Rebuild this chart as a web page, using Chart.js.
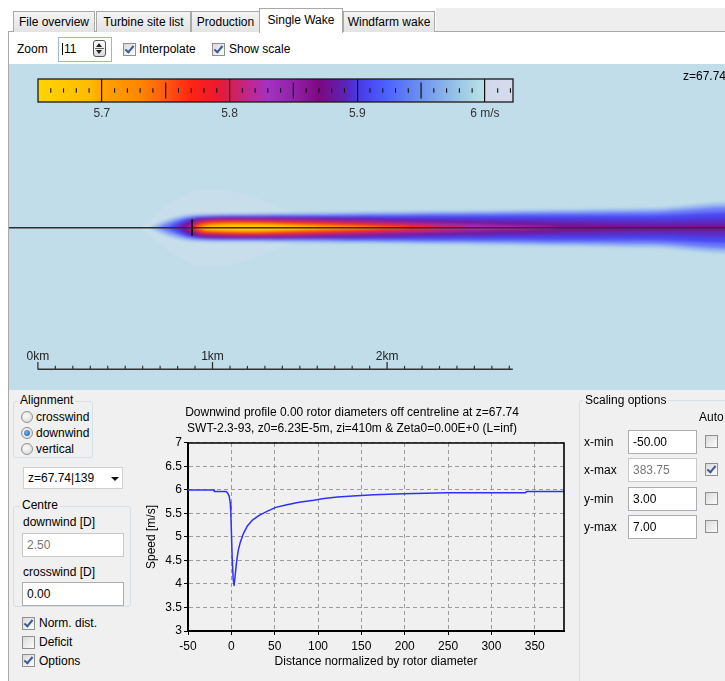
<!DOCTYPE html>
<html><head><meta charset="utf-8">
<script src="https://cdn.jsdelivr.net/npm/chart.js@4.4.1/dist/chart.umd.min.js"></script>
<style>
*{box-sizing:border-box}
body{margin:0;width:725px;height:681px;overflow:hidden;position:relative;background:#fff;font-family:"Liberation Sans",Arial,sans-serif;font-size:12px;color:#000}
.t{position:absolute;white-space:nowrap;line-height:14px}
.tab{position:absolute;top:11px;height:21px;border:1px solid #a9a9a9;border-bottom:none;background:linear-gradient(#f4f4f4,#e3e3e3);text-align:center;line-height:20px;white-space:nowrap}
.tab.act{top:8px;height:25px;background:#fff;line-height:22px;z-index:3}
.cb{position:absolute;width:13px;height:13px;border:1px solid #8f8f8f;background:linear-gradient(135deg,#dadada,#fbfbfb)}
.cb.on::after{content:"";position:absolute;left:3px;top:0px;width:3px;height:7px;border:solid #3e5b95;border-width:0 2px 2px 0;transform:rotate(40deg)}
.rb{position:absolute;width:12px;height:12px;border-radius:50%;border:1px solid #8f8f8f;background:radial-gradient(circle at 40% 40%,#fafafa,#d6d6d6)}
.rb.on::after{content:"";position:absolute;left:2px;top:2px;width:6px;height:6px;border-radius:50%;background:radial-gradient(circle at 40% 35%,#6fb3ec,#1b5c9e)}
.tb{position:absolute;height:24px;border:1px solid #abadb3;background:#fff;padding-left:4px;line-height:22px;white-space:nowrap}
.gb{position:absolute;border:1px solid #d5dfe5;border-radius:3px}
.gl{position:absolute;background:#f0f0f0;padding:0 2px;line-height:14px;white-space:nowrap}
canvas{position:absolute}
</style></head><body>

<!-- tab strip -->
<div style="position:absolute;left:436px;top:8px;width:289px;height:23px;background:#eeeeee"></div>
<div style="position:absolute;left:8px;top:31px;width:717px;height:1px;background:#a9a9a9"></div>
<div class="tab" style="left:13px;width:82px">File overview</div>
<div class="tab" style="left:96px;width:95px">Turbine site list</div>
<div class="tab" style="left:191px;width:69px">Production</div>
<div class="tab act" style="left:259px;width:84px">Single Wake</div>
<div class="tab" style="left:343px;width:92px">Windfarm wake</div>
<div style="position:absolute;left:8px;top:31px;width:1px;height:650px;background:#a9a9a9"></div>

<!-- toolbar -->
<div class="t" style="left:17px;top:42px">Zoom</div>
<div class="tb" style="left:58px;top:37px;width:54px;height:25px;border-color:#9db6d3;padding-left:3px"><span style="display:inline-block;width:1px;height:12px;background:#000;vertical-align:-2px;margin-right:1px"></span>11</div>
<div style="position:absolute;left:93px;top:40px;width:13px;height:17px;border:1px solid #555;border-radius:3px;background:linear-gradient(#fdfdfd,#dcdcdc)">
  <div style="position:absolute;left:2px;top:2px;width:0;height:0;border-left:3.5px solid transparent;border-right:3.5px solid transparent;border-bottom:4px solid #222"></div>
  <div style="position:absolute;left:1px;top:7px;width:9px;height:1px;background:#666"></div>
  <div style="position:absolute;left:2px;top:9px;width:0;height:0;border-left:3.5px solid transparent;border-right:3.5px solid transparent;border-top:4px solid #222"></div>
</div>
<div class="cb on" style="left:123px;top:43px"></div>
<div class="t" style="left:139px;top:42px">Interpolate</div>
<div class="cb on" style="left:212px;top:43px"></div>
<div class="t" style="left:229px;top:42px">Show scale</div>

<!-- map -->
<div style="position:absolute;left:9px;top:64px;width:716px;height:326px;background:#c1dde9"></div>
<canvas id="wake" width="740" height="326" style="left:9px;top:64px;filter:blur(1.6px)"></canvas>
<canvas id="over" width="740" height="326" style="left:9px;top:64px"></canvas>
<canvas id="cbar" width="495" height="44" style="left:28px;top:78px"></canvas>
<div class="t" style="left:683px;top:69px">z=67.74</div>

<!-- bottom panel -->
<div style="position:absolute;left:9px;top:390px;width:716px;height:291px;background:#f0f0f0"></div>

<div class="gb" style="left:13px;top:401px;width:80px;height:57px"></div>
<div class="gl" style="left:18px;top:393px">Alignment</div>
<div class="rb" style="left:21px;top:411px"></div><div class="t" style="left:36px;top:410px">crosswind</div>
<div class="rb on" style="left:21px;top:427px"></div><div class="t" style="left:36px;top:426px">downwind</div>
<div class="rb" style="left:21px;top:443px"></div><div class="t" style="left:36px;top:442px">vertical</div>

<div class="tb" style="left:23px;top:467px;width:100px;height:22px;border-color:#d0d0d0;line-height:20px">z=67.74|139</div>
<div style="position:absolute;left:111px;top:477px;width:0;height:0;border-left:4px solid transparent;border-right:4px solid transparent;border-top:4px solid #111"></div>

<div class="gb" style="left:13px;top:506px;width:118px;height:101px"></div>
<div class="gl" style="left:20px;top:498px">Centre</div>
<div class="t" style="left:23px;top:515px">downwind [D]</div>
<div class="tb" style="left:22px;top:533px;width:102px;color:#777;border-color:#c9c9c9">2.50</div>
<div class="t" style="left:23px;top:565px">crosswind [D]</div>
<div class="tb" style="left:22px;top:582px;width:102px">0.00</div>

<div class="cb on" style="left:22px;top:617px"></div><div class="t" style="left:39px;top:616px">Norm. dist.</div>
<div class="cb" style="left:22px;top:636px"></div><div class="t" style="left:39px;top:635px">Deficit</div>
<div class="cb on" style="left:22px;top:654px"></div><div class="t" style="left:39px;top:654px">Options</div>

<canvas id="prof" width="440" height="280" style="left:140px;top:398px"></canvas>

<div class="gb" style="left:579px;top:400px;width:170px;height:300px"></div>
<div class="gl" style="left:583px;top:393px">Scaling options</div>
<div class="t" style="left:699px;top:410px">Auto</div>
<div class="t" style="left:584px;top:435px">x-min</div>
<div class="tb" style="left:628px;top:430px;width:69px">-50.00</div>
<div class="cb" style="left:705px;top:435px"></div>
<div class="t" style="left:584px;top:463px">x-max</div>
<div class="tb" style="left:628px;top:458px;width:69px;color:#777;border-color:#c9c9c9">383.75</div>
<div class="cb on" style="left:705px;top:463px"></div>
<div class="t" style="left:584px;top:492px">y-min</div>
<div class="tb" style="left:628px;top:487px;width:69px">3.00</div>
<div class="cb" style="left:705px;top:492px"></div>
<div class="t" style="left:584px;top:520px">y-max</div>
<div class="tb" style="left:628px;top:515px;width:69px">7.00</div>
<div class="cb" style="left:705px;top:520px"></div>

<script>
// ---------------- data ----------------
// Downwind profile (distance in rotor diameters, speed in m/s)
const profileDist  = [-50, -20, -19.8, -6.3, -4.4, -2.5, -1.3, -0.6, 0.2, 1.0, 2.1, 3.2, 4.4, 6.0, 7.9, 10.2, 13.6, 18.7, 24.4, 32.1, 41.7, 51.3, 62.9, 78.2, 95, 107, 122.5, 140, 164.7, 199, 249, 339, 341, 383.75];
const profileSpeed = [6.00, 6.00, 5.97, 5.97, 5.94, 5.87, 5.73, 5.52, 5.02, 4.53, 4.11, 3.97, 4.18, 4.46, 4.71, 4.88, 5.06, 5.24, 5.36, 5.46, 5.55, 5.63, 5.68, 5.74, 5.78, 5.82, 5.85, 5.87, 5.90, 5.92, 5.94, 5.94, 5.97, 5.97];
const profileXTicks = [-50, 0, 50, 100, 150, 200, 250, 300, 350];
const profileYTicks = [3, 3.5, 4, 4.5, 5, 5.5, 6, 6.5, 7];
const profileTitle = ['Downwind profile 0.00 rotor diameters off centreline at z=67.74',
                      'SWT-2.3-93, z0=6.23E-5m, zi=410m & Zeta0=0.00E+0 (L=inf)'];

// Colour scale (m/s)
const cbarMin = 5.65, cbarMax = 6.022;
const cbarLabelValues = [5.7, 5.8, 5.9, 6.0];
const cbarMidTicks = [5.75, 5.85, 5.95];
const cbarMinorTicks = [5.66,5.67,5.68,5.69,5.71,5.72,5.73,5.74,5.76,5.77,5.78,5.79,5.81,5.82,5.83,5.84,5.86,5.87,5.88,5.89,5.91,5.92,5.93,5.94,5.96,5.97,5.98,5.99,6.01,6.02];
const cbarStopValues = [5.65, 5.69, 5.70, 5.73, 5.75, 5.77, 5.79, 5.80, 5.82, 5.83, 5.85, 5.87, 5.89, 5.90, 5.92, 5.95, 5.98, 6.00, 6.0005, 6.022];
const cbarStopColors = ['#ffd400','#ffbc00','#ffa400','#ff8600','#ff5a10','#ff2412','#ea1a30','#d61e55','#b82aa0','#a232c2','#9222aa','#7e0880','#5c22b4','#4838e6','#4a5cff','#6c92ee','#9cc8e6','#bde1e6','#d0d8ea','#d6dcee'];

// Wake map (km downwind / km crosswind)
const turbineXKm = 0.883;
const rotorDiameterKm = 0.093;
const scaleBarTicksKm = [0.1,0.2,0.3,0.4,0.5,0.6,0.7,0.8,0.9,1.1,1.2,1.3,1.4,1.5,1.6,1.7,1.8,1.9,2.1,2.2,2.3,2.4,2.5,2.6,2.7];
const scaleBarMajorKm = [0, 1, 2];
const scaleBarEndKm = 2.72;
// wake contour levels, from outer (fastest) to inner (slowest)
const wakeLevelSpeed = [6.01, 5.98, 5.96, 5.93, 5.90, 5.87, 5.84, 5.80, 5.77, 5.73, 5.70, 5.67];
const wakeLevelX = [
  [0.585,0.757,0.928,1.158,1.387,1.616],
  [0.642,0.699,0.785,0.883,1.215,1.788,2.360,2.934,3.507,4.136],
  [0.688,0.757,0.842,0.928,1.215,1.788,2.360,2.934,3.507,4.136],
  [0.745,0.802,0.883,1.215,1.788,2.360,2.934,3.507,4.136],
  [0.791,0.842,0.928,1.215,1.788,2.360,2.934,3.507,4.136],
  [0.814,0.848,0.928,1.215,1.788,2.360,2.934,3.507,4.136],
  [0.848,0.928,1.215,1.788,2.360,2.646,2.990],
  [0.871,0.928,1.215,1.788,2.188,2.475],
  [0.883,0.940,1.215,1.673,2.074,2.303],
  [0.894,0.957,1.215,1.616,1.959,2.131],
  [0.906,0.986,1.215,1.501,1.788,1.959],
  [0.928,1.014,1.215,1.444,1.616]
];
const wakeLevelHalfWidth = [
  [0,0.143,0.218,0.200,0.115,0],
  [0,0.029,0.060,0.077,0.082,0.088,0.095,0.103,0.112,0.120],
  [0,0.031,0.055,0.066,0.071,0.076,0.081,0.087,0.092,0.097],
  [0,0.031,0.057,0.064,0.066,0.068,0.070,0.070,0.069],
  [0,0.032,0.057,0.062,0.058,0.052,0.048,0.044,0.040],
  [0,0.026,0.051,0.057,0.050,0.037,0.027,0.018,0.014],
  [0,0.042,0.051,0.041,0.025,0.015,0],
  [0,0.036,0.044,0.032,0.016,0],
  [0,0.030,0.036,0.026,0.012,0],
  [0,0.024,0.030,0.020,0.008,0],
  [0,0.019,0.024,0.016,0.008,0],
  [0,0.013,0.017,0.011,0]
];
const wakeLevelColor = ['rgba(222,226,244,0.25)','#9ab8f0','#6a78fa','#4a46f0','#5a2cc4','#7a128e','#a82aa6','#d8204e','#ff2a10','#ff7000','#ffa600','#ffd200'];

// ---------------- layout constants ----------------
const FF = '"Liberation Sans", Arial, sans-serif';
const MAP_X = [-0.16552, 4.07274];
const MAP_Y = [-0.92955, 0.93757];
const SB_Y = -0.811, SB_MINOR_Y = -0.8015, SB_MAJOR_Y = -0.791, SB_LABEL_Y = -0.739;

Chart.defaults.font.family = FF;
Chart.defaults.font.size = 12;
Chart.defaults.color = '#000';
Chart.defaults.animation = false;
Chart.defaults.events = [];
Chart.defaults.layout.autoPadding = false;
Chart.defaults.plugins.legend.display = false;
Chart.defaults.plugins.tooltip.enabled = false;

function mapScales(){
  return {
    x:{type:'linear', display:false, min:MAP_X[0], max:MAP_X[1]},
    y:{type:'linear', display:false, min:MAP_Y[0], max:MAP_Y[1]}
  };
}

// ---------- wake heat map (contour levels, blurred) ----------
function shapePoints(xs, ws){
  const pts = xs.map((x,i)=>({x:x, y:ws[i]}));
  for(let i=xs.length-1;i>=0;i--){ if(ws[i]>0) pts.push({x:xs[i], y:-ws[i]}); }
  return pts;
}
const wakeDatasets = wakeLevelSpeed.map((s,i)=>({
  label: s + ' m/s',
  data: shapePoints(wakeLevelX[i], wakeLevelHalfWidth[i]),
  fill: 'shape',
  backgroundColor: wakeLevelColor[i],
  borderColor: 'transparent',
  borderWidth: 0,
  pointRadius: 0,
  tension: 0.35,
  order: 100 - i
}));
new Chart(document.getElementById('wake'), {
  type:'line',
  data:{datasets: wakeDatasets},
  options:{responsive:false, layout:{padding:0, autoPadding:false}, scales: mapScales()}
});

// ---------- overlay: centre line, turbine, scale bar ----------
const scaleLabelPlugin = {
  id:'scaleLabels',
  afterDatasetsDraw(chart){
    const {ctx, scales:{x,y}} = chart;
    ctx.save();
    ctx.font = '12px ' + FF;
    ctx.fillStyle = '#222';
    ctx.textAlign = 'center';
    ctx.textBaseline = 'middle';
    scaleBarMajorKm.forEach(v => ctx.fillText(v + 'km', x.getPixelForValue(v), y.getPixelForValue(SB_LABEL_Y)));
    ctx.restore();
  }
};
new Chart(document.getElementById('over'), {
  type:'line',
  data:{datasets:[
    {data:[{x:MAP_X[0]-0.2,y:0},{x:MAP_X[1]+0.2,y:0}], borderColor:'#2e2e2e', borderWidth:1.6, pointRadius:0},
    {data:[{x:turbineXKm,y:-rotorDiameterKm/2},{x:turbineXKm,y:rotorDiameterKm/2}], borderColor:'#000', borderWidth:1.5, pointRadius:0},
    {data:[{x:0,y:SB_Y},{x:scaleBarEndKm,y:SB_Y}], borderColor:'#333', borderWidth:1.6, pointRadius:0},
    {data:scaleBarTicksKm.map(v=>({x:v,y:SB_MINOR_Y})), showLine:false, pointStyle:'line', rotation:90, pointRadius:1.8, borderColor:'#333', borderWidth:1.2},
    {data:scaleBarMajorKm.map(v=>({x:v,y:SB_MAJOR_Y})), showLine:false, pointStyle:'line', rotation:90, pointRadius:3.8, borderColor:'#333', borderWidth:1.3}
  ]},
  options:{responsive:false, layout:{padding:0, autoPadding:false}, scales: mapScales()},
  plugins:[scaleLabelPlugin]
});

// ---------- colour bar ----------
const framePlugin = {
  id:'frame',
  afterDraw(chart){
    const a = chart.chartArea, ctx = chart.ctx;
    ctx.save(); ctx.strokeStyle = '#1a1a1a'; ctx.lineWidth = 1.3;
    ctx.strokeRect(a.left, a.top, a.right - a.left, a.bottom - a.top);
    ctx.restore();
  }
};
new Chart(document.getElementById('cbar'), {
  type:'line',
  data:{datasets:[
    {data:[{x:cbarMin,y:1},{x:cbarMax,y:1}], fill:'origin', borderColor:'transparent', borderWidth:0, pointRadius:0,
     backgroundColor:(c)=>{
       const ch = c.chart, sx = ch.scales.x;
       if(!ch.chartArea || !sx) return '#ffa000';
       const x0 = sx.getPixelForValue(cbarMin), x1 = sx.getPixelForValue(cbarMax);
       const g = ch.ctx.createLinearGradient(x0,0,x1,0);
       cbarStopValues.forEach((v,i)=>g.addColorStop((v-cbarMin)/(cbarMax-cbarMin), cbarStopColors[i]));
       return g;
     }, order:10},
    {data:cbarMidTicks.map(v=>({x:v,y:0.5})), showLine:false, pointStyle:'line', rotation:90, pointRadius:8, borderColor:'#111', borderWidth:1.2, order:1},
    {data:cbarMinorTicks.map(v=>({x:v,y:0.5})), showLine:false, pointStyle:'line', rotation:90, pointRadius:2.2, borderColor:'#111', borderWidth:1.1, order:2}
  ]},
  options:{
    responsive:false,
    layout:{padding:{left:10,right:10,top:1,bottom:0}, autoPadding:false},
    scales:{
      x:{type:'linear', min:cbarMin, max:cbarMax,
         afterBuildTicks:(s)=>{ s.ticks = cbarLabelValues.map(v=>({value:v})); },
         ticks:{autoSkip:false, maxRotation:0, padding:4, color:'#333', font:{size:12},
                callback:(v)=> v===6 ? '6 m/s' : v.toFixed(1)},
         grid:{color:'#111', lineWidth:1.2, drawTicks:false, z:1},
         border:{display:false},
         afterFit:(s)=>{ s.height = 20; }},
      y:{type:'linear', display:false, min:0, max:1}
    }
  },
  plugins:[framePlugin]
});

// ---------- downwind profile chart ----------
const boxPlugin = {
  id:'box',
  afterDraw(chart){
    const a = chart.chartArea, ctx = chart.ctx;
    ctx.save(); ctx.strokeStyle = '#000'; ctx.lineWidth = 1.6;
    ctx.beginPath();
    ctx.moveTo(a.left, a.top); ctx.lineTo(a.right, a.top); ctx.lineTo(a.right, a.bottom);
    ctx.stroke(); ctx.restore();
  }
};
const axisFont = {family:FF, size:12};
new Chart(document.getElementById('prof'), {
  type:'line',
  data:{datasets:[{
    data: profileDist.map((x,i)=>({x:x, y:profileSpeed[i]})),
    borderColor:'#2f2fff', borderWidth:1.5, borderJoinStyle:'round', pointRadius:0, tension:0, fill:false
  }]},
  options:{
    responsive:false,
    layout:{padding:{left:0,right:16,top:0,bottom:0}, autoPadding:false},
    plugins:{
      title:{display:true, text:profileTitle, color:'#000', font:{family:FF, size:12, weight:'normal', lineHeight:1.333}, padding:{top:7,bottom:6}}
    },
    scales:{
      x:{type:'linear', min:-50, max:383.75,
         afterBuildTicks:(s)=>{ s.ticks = profileXTicks.map(v=>({value:v})); },
         ticks:{autoSkip:false, maxRotation:0, padding:4, color:'#000', font:axisFont, callback:(v)=>String(v)},
         grid:{color:'#9c9c9c', lineWidth:1, tickColor:'#000', tickLength:4},
         border:{color:'#000', width:2, dash:[4,3]},
         title:{display:true, text:'Distance normalized by rotor diameter', color:'#000', font:axisFont, padding:{top:0,bottom:9}},
         afterFit:(s)=>{ s.height = 47; }},
      y:{type:'linear', min:3, max:7,
         afterBuildTicks:(s)=>{ s.ticks = profileYTicks.map(v=>({value:v})); },
         ticks:{autoSkip:false, padding:2, color:'#000', font:axisFont, callback:(v)=>String(v)},
         grid:{color:'#9c9c9c', lineWidth:1, tickColor:'#000', tickLength:4},
         border:{color:'#000', width:2, dash:[4,3]},
         title:{display:true, text:'Speed [m/s]', color:'#000', font:axisFont, padding:{top:4,bottom:0}},
         afterFit:(s)=>{ s.width = 48; }}
    }
  },
  plugins:[boxPlugin]
});
</script>
</body></html>
